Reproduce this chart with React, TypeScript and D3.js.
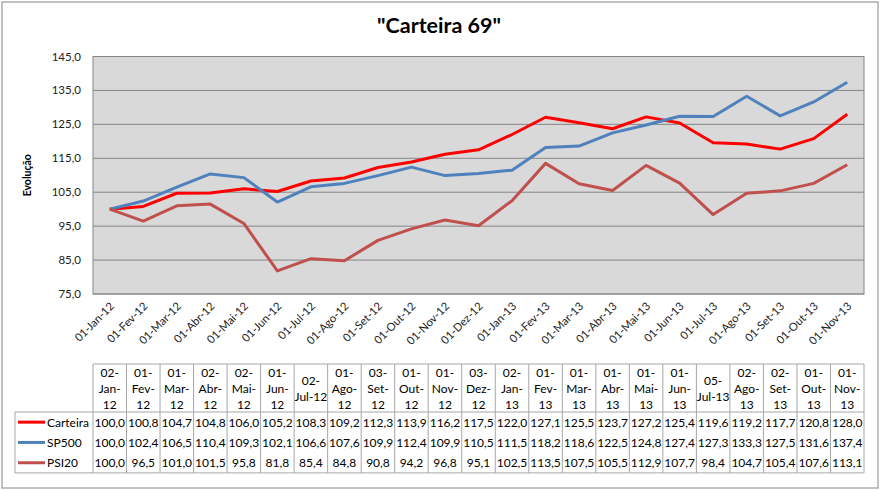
import React from "react";
import * as d3 from "d3";

const axisLabels = ["01-Jan-12","01-Fev-12","01-Mar-12","01-Abr-12","01-Mai-12","01-Jun-12","01-Jul-12","01-Ago-12","01-Set-12","01-Out-12","01-Nov-12","01-Dez-12","01-Jan-13","01-Fev-13","01-Mar-13","01-Abr-13","01-Mai-13","01-Jun-13","01-Jul-13","01-Ago-13","01-Set-13","01-Out-13","01-Nov-13"];
const tableHeaders = ["02-|Jan-|12","01-|Fev-|12","01-|Mar-|12","02-|Abr-|12","02-|Mai-|12","01-|Jun-|12","02-|Jul-12","01-|Ago-|12","03-|Set-|12","01-|Out-|12","01-|Nov-|12","03-|Dez-|12","02-|Jan-|13","01-|Fev-|13","01-|Mar-|13","01-|Abr-|13","01-|Mai-|13","01-|Jun-|13","05-|Jul-13","02-|Ago-|13","02-|Set-|13","01-|Out-|13","01-|Nov-|13"];
const carteira = [100.0,100.8,104.7,104.8,106.0,105.2,108.3,109.2,112.3,113.9,116.2,117.5,122.0,127.1,125.5,123.7,127.2,125.4,119.6,119.2,117.7,120.8,128.0];
const sp500 = [100.0,102.4,106.5,110.4,109.3,102.1,106.6,107.6,109.9,112.4,109.9,110.5,111.5,118.2,118.6,122.5,124.8,127.4,127.3,133.3,127.5,131.6,137.4];
const psi20 = [100.0,96.5,101.0,101.5,95.8,81.8,85.4,84.8,90.8,94.2,96.8,95.1,102.5,113.5,107.5,105.5,112.9,107.7,98.4,104.7,105.4,107.6,113.1];
const yTicks = [75,85,95,105,115,125,135,145];
const seriesNames = ["Carteira","SP500","PSI20"];
const seriesColors = ["#ff0000","#4f81bd","#c0504d"];

const fmt = (v: number) => v.toFixed(1).replace(".", ",");
const FONT = "Lato, 'Open Sans', sans-serif";

export default function App() {
  const W = 880, H = 490;
  const left = 93, right = 864, top = 56.5, bottom = 294;
  const x = d3.scaleBand<number>().domain(d3.range(axisLabels.length)).range([left, right]);
  const y = d3.scaleLinear().domain([75, 145]).range([bottom, top]);
  const cx = (i: number) => (x(i) as number) + x.bandwidth() / 2;
  const series = [carteira, sp500, psi20];
  const line = d3.line<number>().x((_, i) => cx(i)).y(d => y(d));

  const tTop = 364, tHead = 412, rowH = 20.3, tLeft = 15;
  const tBottom = tHead + rowH * 3;
  const gridColor = "#a6a6a6";

  return (
    <svg width={W} height={H} style={{ position: "absolute", left: 0, top: 0, fontFamily: FONT }}>
      <rect x={0} y={0} width={W} height={H} fill="#fff" />
      <rect x={2} y={2} width={876} height={486} fill="none" stroke="#868686" strokeWidth={1} />
      <text x={439} y={33} textAnchor="middle" fontSize={21.5} fontWeight="bold" fill="#000" fontFamily={FONT}>"Carteira 69"</text>
      <text transform={`translate(31,${(top + bottom) / 2}) rotate(-90)`} textAnchor="middle" fontSize={10.5} fontWeight="bold" fill="#000">Evolução</text>

      <rect x={left} y={top} width={right - left} height={bottom - top} fill="#d9d9d9" stroke="#868686" strokeWidth={1} />
      {yTicks.map(t => (
        <g key={t}>
          <line x1={left} x2={right} y1={y(t)} y2={y(t)} stroke="#868686" strokeWidth={1} />
          <text x={81} y={y(t) + 4} textAnchor="end" fontSize={11.5} fill="#222">{fmt(t)}</text>
        </g>
      ))}
      {axisLabels.map((l, i) => (
        <text key={l} transform={`translate(${cx(i) + 5},${bottom + 13}) rotate(-45)`} textAnchor="end" fontSize={11.2} fill="#222">{l}</text>
      ))}
      {series.map((s, k) => (
        <path key={k} d={line(s) || ""} fill="none" stroke={seriesColors[k]} strokeWidth={3} strokeLinejoin="round" />
      ))}

      {/* data table */}
      <g fontSize={12} fill="#000">
        <line x1={left} x2={right} y1={tTop} y2={tTop} stroke={gridColor} />
        <line x1={tLeft} x2={right} y1={tHead} y2={tHead} stroke={gridColor} />
        <line x1={tLeft} x2={right} y1={tBottom} y2={tBottom} stroke={gridColor} />
        <line x1={tLeft} x2={tLeft} y1={tHead} y2={tBottom} stroke={gridColor} />
        {d3.range(axisLabels.length + 1).map(i => {
          const xx = i < axisLabels.length ? (x(i) as number) : right;
          return <line key={i} x1={xx} x2={xx} y1={tTop} y2={tBottom} stroke={gridColor} />;
        })}
        {tableHeaders.map((h, i) => {
          const lines = h.split("|");
          const mid = (tTop + tHead) / 2;
          const lh = 16;
          return lines.map((ln, j) => (
            <text key={i + "-" + j} x={cx(i)} y={mid + (j - (lines.length - 1) / 2) * lh + 4.5} textAnchor="middle">{ln}</text>
          ));
        })}
        {series.map((s, k) => {
          const yc = tHead + rowH * k + rowH / 2;
          return (
            <g key={k}>
              <line x1={18} x2={45} y1={yc} y2={yc} stroke={seriesColors[k]} strokeWidth={3} />
              <text x={47} y={yc + 4.5}>{seriesNames[k]}</text>
              {s.map((v, i) => (
                <text key={i} x={cx(i)} y={yc + 4.5} textAnchor="middle">{fmt(v)}</text>
              ))}
            </g>
          );
        })}
      </g>
    </svg>
  );
}
